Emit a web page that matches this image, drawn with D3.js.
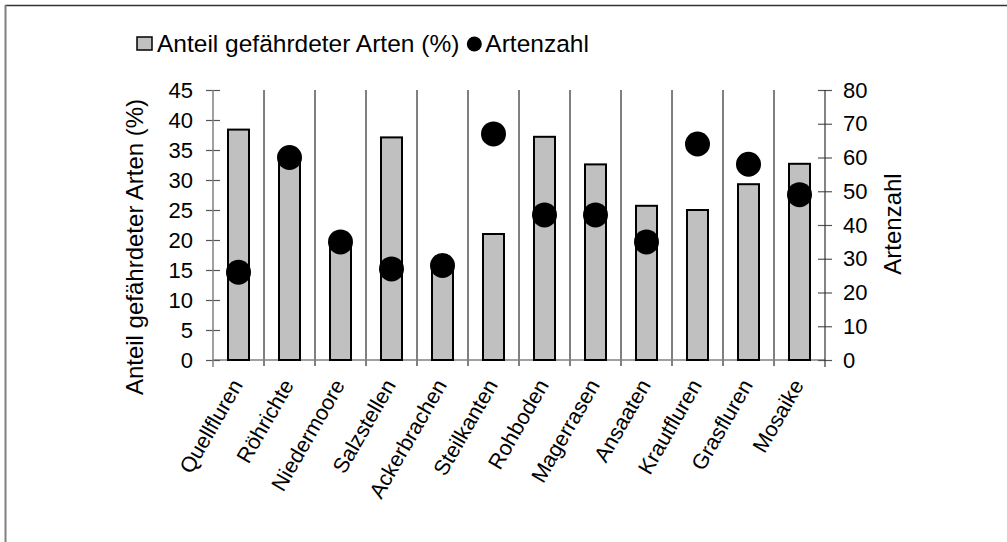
<!DOCTYPE html>
<html>
<head>
<meta charset="utf-8">
<script src="https://cdn.jsdelivr.net/npm/d3@7"></script>
<style>
  html, body { margin: 0; padding: 0; background: #fff; }
  svg text { font-family: "Liberation Sans", Arial, sans-serif; fill: #000; }
</style>
</head>
<body>
<svg id="chart" width="1007" height="542"></svg>
<script>
const categories = ["Quellfluren", "Röhrichte", "Niedermoore", "Salzstellen", "Ackerbrachen", "Steilkanten", "Rohboden", "Magerrasen", "Ansaaten", "Krautfluren", "Grasfluren", "Mosaike"];
const anteilGefaehrdet = [38.4, 34, 19.5, 37.1, 16, 21.0, 37.2, 32.6, 25.7, 25.0, 29.3, 32.7];
const artenzahl = [26, 60, 35, 27, 28, 67, 43, 43, 35, 64, 58, 49];
const leftTicks = [0, 5, 10, 15, 20, 25, 30, 35, 40, 45];
const rightTicks = [0, 10, 20, 30, 40, 50, 60, 70, 80];
const legendBarLabel = "Anteil gefährdeter Arten (%)";
const legendDotLabel = "Artenzahl";
const leftTitle = "Anteil gefährdeter Arten (%)";
const rightTitle = "Artenzahl";

const svg = d3.select("#chart");
const W = 1007, H = 542;
const x0 = 213, x1 = 825, yTop = 90, yBot = 360;
const fsTick = 22, fsCat = 21.5, fsTitle = 24, fsLegend = 24.5;

// frame
svg.append("line").attr("x1", 5).attr("x2", W).attr("y1", 5.5).attr("y2", 5.5)
  .attr("stroke", "#333").attr("stroke-width", 1.5);
svg.append("line").attr("x1", 5.5).attr("x2", 5.5).attr("y1", 5).attr("y2", H)
  .attr("stroke", "#808080").attr("stroke-width", 2);

const x = d3.scaleBand().domain(categories).range([x0, x1]).padding(0);
const yL = d3.scaleLinear().domain([0, 45]).range([yBot, yTop]);
const yR = d3.scaleLinear().domain([0, 80]).range([yBot, yTop]);

// vertical gridlines between categories (extend below axis)
const bounds = categories.slice(1).map(c => x(c));
svg.append("g").selectAll("line").data(bounds).join("line")
  .attr("x1", d => d).attr("x2", d => d)
  .attr("y1", yTop).attr("y2", yBot + 6)
  .attr("stroke", "#000").attr("stroke-width", 1);

// bottom axis line
svg.append("line").attr("x1", x0).attr("x2", x1).attr("y1", yBot).attr("y2", yBot)
  .attr("stroke", "#808080").attr("stroke-width", 1.5);

// left axis
const gL = svg.append("g").attr("transform", `translate(${x0},0)`)
  .call(d3.axisLeft(yL).tickValues(leftTicks).tickSize(7).tickPadding(13));
gL.select(".domain").remove();
gL.selectAll(".tick line").attr("x1", -7).attr("x2", 7).attr("stroke", "#555").attr("stroke-width", 1.2);
gL.selectAll(".tick text").attr("font-size", fsTick).attr("font-family", "Liberation Sans, Arial, sans-serif");
gL.append("line").attr("x1", 0).attr("x2", 0).attr("y1", yTop).attr("y2", yBot + 7)
  .attr("stroke", "#808080").attr("stroke-width", 1.5);

// right axis
const gR = svg.append("g").attr("transform", `translate(${x1},0)`)
  .call(d3.axisRight(yR).tickValues(rightTicks).tickSize(7).tickPadding(11));
gR.select(".domain").remove();
gR.selectAll(".tick line").attr("x1", -7).attr("x2", 7).attr("stroke", "#555").attr("stroke-width", 1.2);
gR.selectAll(".tick text").attr("font-size", fsTick).attr("font-family", "Liberation Sans, Arial, sans-serif");
gR.append("line").attr("x1", 0).attr("x2", 0).attr("y1", yTop).attr("y2", yBot + 7)
  .attr("stroke", "#333").attr("stroke-width", 1.2);

// bars
const bw = 21;
svg.append("g").selectAll("rect").data(anteilGefaehrdet).join("rect")
  .attr("x", (d, i) => x(categories[i]) + x.bandwidth() / 2 - bw / 2)
  .attr("y", d => yL(d))
  .attr("width", bw)
  .attr("height", d => yBot - yL(d))
  .attr("fill", "#c0c0c0").attr("stroke", "#000").attr("stroke-width", 2);

// dots
svg.append("g").selectAll("circle").data(artenzahl).join("circle")
  .attr("cx", (d, i) => x(categories[i]) + x.bandwidth() / 2)
  .attr("cy", d => yR(d))
  .attr("r", 12.5).attr("fill", "#000");

// x labels
svg.append("g").selectAll("text").data(categories).join("text")
  .attr("transform", d => `translate(${x(d) + x.bandwidth() / 2 + 5},${yBot + 25}) rotate(-60)`)
  .attr("text-anchor", "end")
  .attr("font-size", fsCat)
  .text(d => d);

// axis titles
svg.append("text").attr("transform", `translate(143,247) rotate(-90)`)
  .attr("text-anchor", "middle").attr("font-size", fsTitle).text(leftTitle);
svg.append("text").attr("transform", `translate(901,224) rotate(-90)`)
  .attr("text-anchor", "middle").attr("font-size", fsTitle).text(rightTitle);

// legend
const lg = svg.append("g");
lg.append("rect").attr("x", 137).attr("y", 37).attr("width", 15).attr("height", 13)
  .attr("fill", "#c0c0c0").attr("stroke", "#000").attr("stroke-width", 1.5);
const t1 = lg.append("text").attr("x", 157).attr("y", 52).attr("font-size", fsLegend).text(legendBarLabel);
const end1 = 157 + t1.node().getComputedTextLength();
lg.append("circle").attr("cx", end1 + 15).attr("cy", 44).attr("r", 7.5).attr("fill", "#000");
lg.append("text").attr("x", end1 + 26).attr("y", 52).attr("font-size", fsLegend).text(legendDotLabel);
</script>
</body>
</html>
